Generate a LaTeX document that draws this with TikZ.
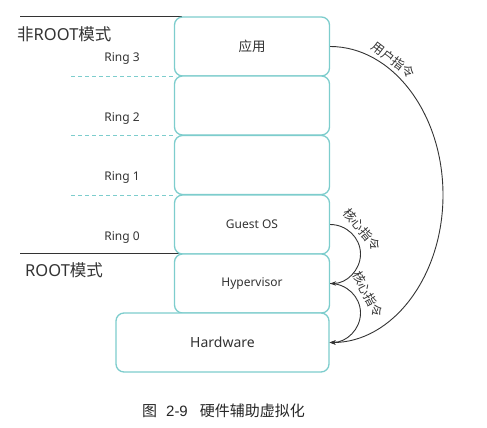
\documentclass[tikz,border=0pt]{standalone}
\usepackage{fontspec}
\setmainfont{Noto Sans}
\newfontfamily\cjk{Noto Sans CJK SC}
\newfontfamily\capfont{Liberation Sans}
\usetikzlibrary{arrows.meta}
\definecolor{teal1}{RGB}{125,205,205}
\definecolor{ink}{RGB}{51,51,51}
\begin{document}
\begin{tikzpicture}[x=1pt,y=-1pt,
 layer/.style={draw=teal1, line width=1.3pt, rounded corners=8pt, fill=white,
   minimum width=155pt, minimum height=59pt, inner sep=0pt, text=ink,
   font=\fontsize{12}{14}\selectfont},
 ringlbl/.style={text=ink, font=\fontsize{12}{14}\selectfont, inner sep=0pt},
 modelbl/.style={text=ink, font=\fontsize{16.5}{18}\selectfont, inner sep=0pt, anchor=west},
 ringline/.style={draw=teal1, dash pattern=on 4pt off 3pt, line width=1pt},
 modeline/.style={draw=ink, line width=1pt},
 instr/.style={draw=ink, line width=0.9pt, -{Stealth[length=6pt,width=4.5pt]}},
 instrlbl/.style={text=ink, font=\cjk\fontsize{12.5}{14}\selectfont, inner sep=0pt}]
\useasboundingbox (0,0) rectangle (487,428);

% mode / ring separator lines
\coordinate (topL) at (20,17);
\coordinate (topR) at (182,17);
\coordinate (d3L) at (71,76);
\coordinate (d3R) at (176,76);
\coordinate (d2L) at (71,135);
\coordinate (d2R) at (176,135);
\coordinate (d1L) at (71,195);
\coordinate (d1R) at (176,195);
\coordinate (r0L) at (20,253.5);
\coordinate (r0R) at (180,253.5);
\draw[modeline] (topL) -- (topR);
\draw[ringline] (d3L) -- (d3R);
\draw[ringline] (d2L) -- (d2R);
\draw[ringline] (d1L) -- (d1R);
\draw[modeline] (r0L) -- (r0R);

% layers
\node[layer] (app) at (252,46.5) {\cjk\fontsize{13.5}{15}\selectfont 应用};
\node[layer] (r2) at (252,105.5) {};
\node[layer] (r1) at (252,165) {};
\node[layer] (guest) at (252,224.5) {Guest OS};
\node[layer] (hyp) at (252,283.5) {Hypervisor};
\node[layer, minimum width=213pt, font=\fontsize{14}{16}\selectfont] (hw) at (222.5,342.5) {Hardware};

% labels
\node[modelbl] (nonroot) at (17,34) {{\cjk 非}ROOT{\cjk 模式}};
\node[modelbl] (root) at (25,270) {ROOT{\cjk 模式}};
\node[ringlbl] (ring3) at (122,59) {Ring 3};
\node[ringlbl] (ring2) at (122,119) {Ring 2};
\node[ringlbl] (ring1) at (122,178) {Ring 1};
\node[ringlbl] (ring0) at (122,237.5) {Ring 0};

% instruction arcs
\draw[instr] (app.east) .. controls (392,46.5) and (443,113) .. (443,195)
  .. controls (443,277) and (392,342.5) .. (hw.east);
\draw[instr] (guest.east) .. controls (346.5,224.5) and (360.5,237.7) .. (360.5,254)
  .. controls (360.5,270.3) and (346.5,283.5) .. (hyp.east);
\draw[instr] (hyp.east) .. controls (346.5,283.5) and (360.5,296.7) .. (360.5,313)
  .. controls (360.5,329.3) and (346.5,342.5) .. (hw.east);

\node[instrlbl, rotate=-37] (user) at (393.5,60) {用户指令};
\node[instrlbl, rotate=-50] (core1) at (362,229.5) {核心指令};
\node[instrlbl, rotate=-62] (core2) at (368,294) {核心指令};

% caption
\node[text=black!85, inner sep=0pt, font=\fontsize{15}{17}\selectfont] (caption) at (223.5,411)
  {{\cjk 图}\hspace{9pt}{\capfont 2-9}\hspace{12pt}{\cjk 硬件辅助虚拟化}};
\end{tikzpicture}
\end{document}
